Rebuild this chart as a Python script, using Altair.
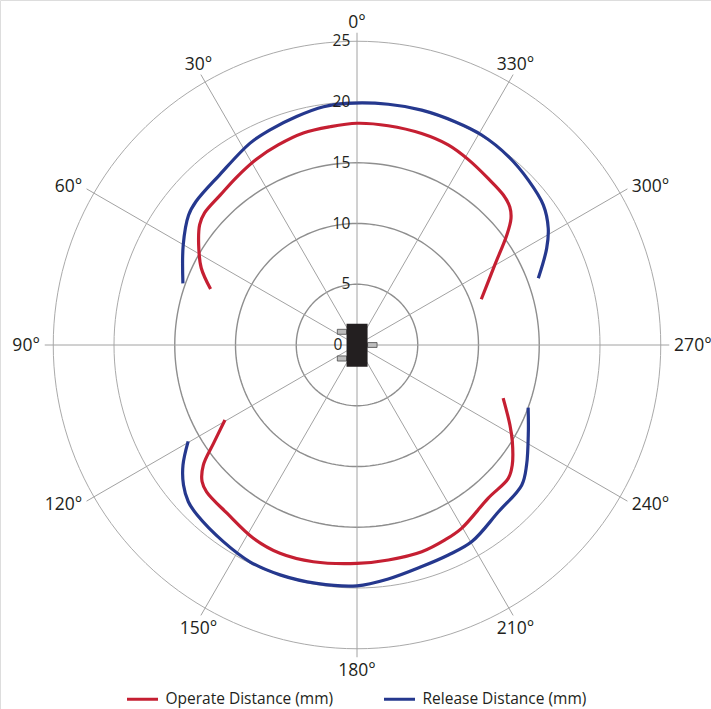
import numpy as np
import pandas as pd
import altair as alt

# ---------------------------------------------------------------------------
# Data: operate / release distance (mm) versus magnet angle (degrees,
# measured counter-clockwise from the top of the diagram)
# ---------------------------------------------------------------------------
series_names = ["Operate Distance (mm)", "Release Distance (mm)"]
series_colors = ["#c51f32", "#25388e"]

operate_upper_angle = [69.1, 63.7, 57.8, 52.6, 49.1, 42.4, 35.6, 28.2, 21.5, 14.2, 7.1, 0.0,
                       351.9, 343.0, 335.5, 329.0, 321.8, 315.7, 312.1, 309.4, 306.3, 300.1, 290.2]
operate_upper_dist = [12.9, 14.3, 15.4, 16.3, 16.6, 16.7, 17.0, 17.4, 17.7, 18.0, 18.1, 18.25,
                      18.23, 18.2, 18.1, 17.8, 17.45, 17.25, 16.95, 16.4, 15.3, 13.1, 10.9]

operate_lower_angle = [119.6, 124.4, 128.0, 131.4, 134.3, 142.3, 151.8, 159.7, 168.6, 180.0,
                       188.3, 197.4, 204.3, 209.7, 220.6, 228.6, 232.3, 238.1, 242.4, 250.0]
operate_lower_dist = [12.5, 14.3, 16.05, 17.0, 17.3, 17.5, 18.05, 18.28, 18.2, 17.98,
                      17.88, 17.83, 17.6, 17.37, 16.6, 16.6, 16.15, 15.06, 14.2, 12.8]

release_upper_angle = [70.5, 60.1, 52.4, 48.3, 38.9, 27.9, 22.0, 14.8, 8.0, 2.4,
                       352.6, 344.6, 336.3, 329.3, 321.2, 313.9, 306.9, 301.4, 297.0, 290.2]
release_upper_dist = [15.2, 16.5, 17.5, 17.75, 18.0, 18.8, 19.1, 19.45, 19.8, 19.9,
                      19.98, 20.05, 20.07, 20.1, 19.9, 19.57, 19.18, 18.44, 17.52, 15.9]

release_lower_angle = [119.7, 124.6, 128.9, 132.9, 136.7, 145.8, 153.7, 161.5, 170.4, 180.0,
                       187.6, 196.3, 203.5, 210.3, 220.3, 229.6, 234.7, 243.2, 249.9]
release_lower_dist = [16.0, 17.4, 18.35, 18.95, 19.2, 19.57, 19.9, 19.95, 19.9, 19.82,
                      19.43, 19.0, 18.85, 18.74, 18.0, 17.8, 17.1, 15.8, 15.0]

# Polar grid
spoke_angles = [0, 30, 60, 90, 120, 150, 180, 210, 240, 270, 300, 330]
inner_rings = [5, 10, 15]
outer_rings = [20, 25]
radial_ticks = [0, 5, 10, 15, 20, 25]

# ---------------------------------------------------------------------------
# Layout of the drawing (data units = mm on the radial axis)
# ---------------------------------------------------------------------------
W, H = 711, 709
PX_PER_MM = 12.15
CX, CY = 357, 345
X_DOMAIN = [-CX / PX_PER_MM, (W - CX) / PX_PER_MM]
Y_DOMAIN = [-(H - CY) / PX_PER_MM, CY / PX_PER_MM]
SPOKE_LEN = 25.7
LABEL_R = 26.1
TEXT_COLOR = "#231f20"
FONT = "Open Sans"

xs = alt.Scale(domain=X_DOMAIN, nice=False, zero=False)
ys = alt.Scale(domain=Y_DOMAIN, nice=False, zero=False)

POLAR_X = "-datum.r * sin(datum.angle * PI / 180)"
POLAR_Y = "datum.r * cos(datum.angle * PI / 180)"

# Curves table
rows = []
for name, seg, angs, dists in [
    (series_names[0], "upper", operate_upper_angle, operate_upper_dist),
    (series_names[0], "lower", operate_lower_angle, operate_lower_dist),
    (series_names[1], "upper", release_upper_angle, release_upper_dist),
    (series_names[1], "lower", release_lower_angle, release_lower_dist),
]:
    for i, (a, d) in enumerate(zip(angs, dists)):
        rows.append({"series": name, "segment": f"{name} {seg}", "idx": i, "angle": a, "r": d})
curves_df = pd.DataFrame(rows)

# Grid rings sampled as closed polylines
ring_steps = np.arange(0, 361, 2)


def ring_frame(values):
    return pd.DataFrame(
        [{"ring": rv, "idx": i, "angle": float(a), "r": rv} for rv in values for i, a in enumerate(ring_steps)]
    )


spokes_df = pd.DataFrame({"angle": spoke_angles, "r": SPOKE_LEN})
angle_labels_df = pd.DataFrame(
    {"angle": spoke_angles, "r": LABEL_R, "label": [f"{a}°" for a in spoke_angles]}
)
radial_df = pd.DataFrame({"value": radial_ticks, "label": [str(v) for v in radial_ticks]})

# Sensor package drawn at the origin (outline in mm)
body_df = pd.DataFrame({"x0": [-0.86], "x1": [0.87], "y0": [-1.78], "y1": [1.74]})
pins_df = pd.DataFrame({
    "x0": [-1.62, -1.62, 0.87],
    "x1": [-0.86, -0.86, 1.65],
    "y0": [0.88, -1.32, -0.2],
    "y1": [1.29, -0.9, 0.2],
})


def ring_layer(values, color, width):
    return (
        alt.Chart(ring_frame(values))
        .transform_calculate(x=POLAR_X, y=POLAR_Y)
        .mark_line(stroke=color, strokeWidth=width)
        .encode(
            x=alt.X("x:Q", scale=xs, axis=None),
            y=alt.Y("y:Q", scale=ys, axis=None),
            detail="ring:N",
            order="idx:Q",
        )
    )


rings_outer = ring_layer(outer_rings, "#aaaaaa", 1.0)
rings_inner = ring_layer(inner_rings, "#8e8e8e", 1.4)

spokes = (
    alt.Chart(spokes_df)
    .transform_calculate(x0="0", y0="0", x=POLAR_X, y=POLAR_Y)
    .mark_rule(stroke="#a2a2a2", strokeWidth=1.0)
    .encode(
        x=alt.X("x0:Q", scale=xs, axis=None),
        y=alt.Y("y0:Q", scale=ys, axis=None),
        x2="x:Q",
        y2="y:Q",
    )
)

curves = (
    alt.Chart(curves_df)
    .transform_calculate(x=POLAR_X, y=POLAR_Y)
    .mark_line(strokeWidth=3.2, interpolate="catmull-rom", strokeCap="butt", strokeJoin="round")
    .encode(
        x=alt.X("x:Q", scale=xs, axis=None),
        y=alt.Y("y:Q", scale=ys, axis=None),
        color=alt.Color(
            "series:N",
            scale=alt.Scale(domain=series_names, range=series_colors),
            legend=alt.Legend(
                title=None,
                orient="none",
                legendX=125.5,
                legendY=682,
                direction="horizontal",
                symbolType="stroke",
                symbolSize=961,
                symbolStrokeWidth=3,
                labelFont=FONT,
                labelFontSize=15.5,
                labelColor=TEXT_COLOR,
                labelLimit=400,
                labelOffset=6,
                columnPadding=44,
                padding=0,
            ),
        ),
        detail="segment:N",
        order="idx:Q",
    )
)

body = alt.Chart(body_df).mark_rect(fill="#231f20").encode(
    x=alt.X("x0:Q", scale=xs, axis=None), x2="x1:Q",
    y=alt.Y("y0:Q", scale=ys, axis=None), y2="y1:Q",
)
pins = alt.Chart(pins_df).mark_rect(fill="#bcbcbc", stroke="#4a4a4a", strokeWidth=0.8).encode(
    x=alt.X("x0:Q", scale=xs, axis=None), x2="x1:Q",
    y=alt.Y("y0:Q", scale=ys, axis=None), y2="y1:Q",
)


def angle_label_layer(angle_filter, **text_props):
    return (
        alt.Chart(angle_labels_df)
        .transform_filter(angle_filter)
        .transform_calculate(x=POLAR_X, y=POLAR_Y)
        .mark_text(font=FONT, fontSize=17.5, color=TEXT_COLOR, **text_props)
        .encode(
            x=alt.X("x:Q", scale=xs, axis=None),
            y=alt.Y("y:Q", scale=ys, axis=None),
            text="label:N",
        )
    )


labels_top = angle_label_layer("datum.angle <= 30 || datum.angle >= 330",
                               align="center", baseline="alphabetic")
labels_bottom = angle_label_layer("datum.angle >= 150 && datum.angle <= 210",
                                  align="center", baseline="alphabetic", dy=14)
labels_left = angle_label_layer("datum.angle >= 60 && datum.angle <= 120",
                                align="right", baseline="middle", dy=1)
labels_right = angle_label_layer("datum.angle >= 240 && datum.angle <= 300",
                                 align="left", baseline="middle", dy=1)

radial_labels = (
    alt.Chart(radial_df)
    .transform_calculate(x="datum.value == 0 ? -1.2 : -0.55", y="datum.value")
    .mark_text(font=FONT, fontSize=15.5, color=TEXT_COLOR, align="right", baseline="middle")
    .encode(
        x=alt.X("x:Q", scale=xs, axis=None),
        y=alt.Y("y:Q", scale=ys, axis=None),
        text="label:N",
    )
)

chart = (
    alt.layer(rings_outer, rings_inner, spokes, curves, pins, body, radial_labels,
              labels_top, labels_bottom, labels_left, labels_right)
    .properties(width=W, height=H, padding=0, autosize=alt.AutoSizeParams(type="none"))
    .configure_view(stroke=None)
    .configure(background="white")
)

chart.save("out.html", embed_options={"renderer": "svg", "actions": False})
